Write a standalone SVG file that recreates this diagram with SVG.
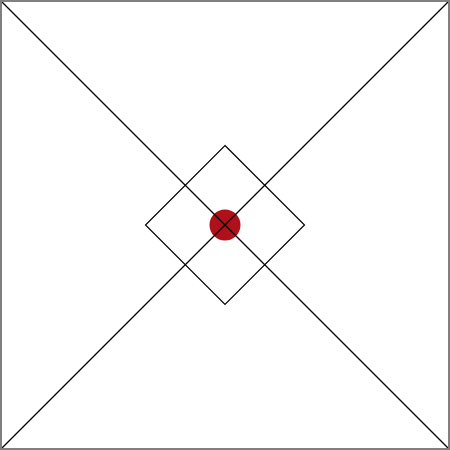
<svg xmlns="http://www.w3.org/2000/svg" width="450" height="450" viewBox="0 0 450 450">
<style>
.ln{stroke:#000;stroke-width:1.2;fill:none}
</style>
<rect x="0" y="0" width="450" height="450" fill="#fff"/>
<g id="center">
<circle cx="225" cy="225" r="15.5" fill="#b0101a"/>
</g>
<g id="diamond">
<polygon class="ln" points="225,145.5 304.5,225 225,304.5 145.5,225"/>
</g>
<g id="connectors">
<line class="ln" x1="1" y1="1" x2="449" y2="449"/>
<line class="ln" x1="449" y1="1" x2="1" y2="449"/>
</g>
<rect x="1" y="1" width="448" height="448" fill="none" stroke="#808080" stroke-width="2"/>
</svg>
